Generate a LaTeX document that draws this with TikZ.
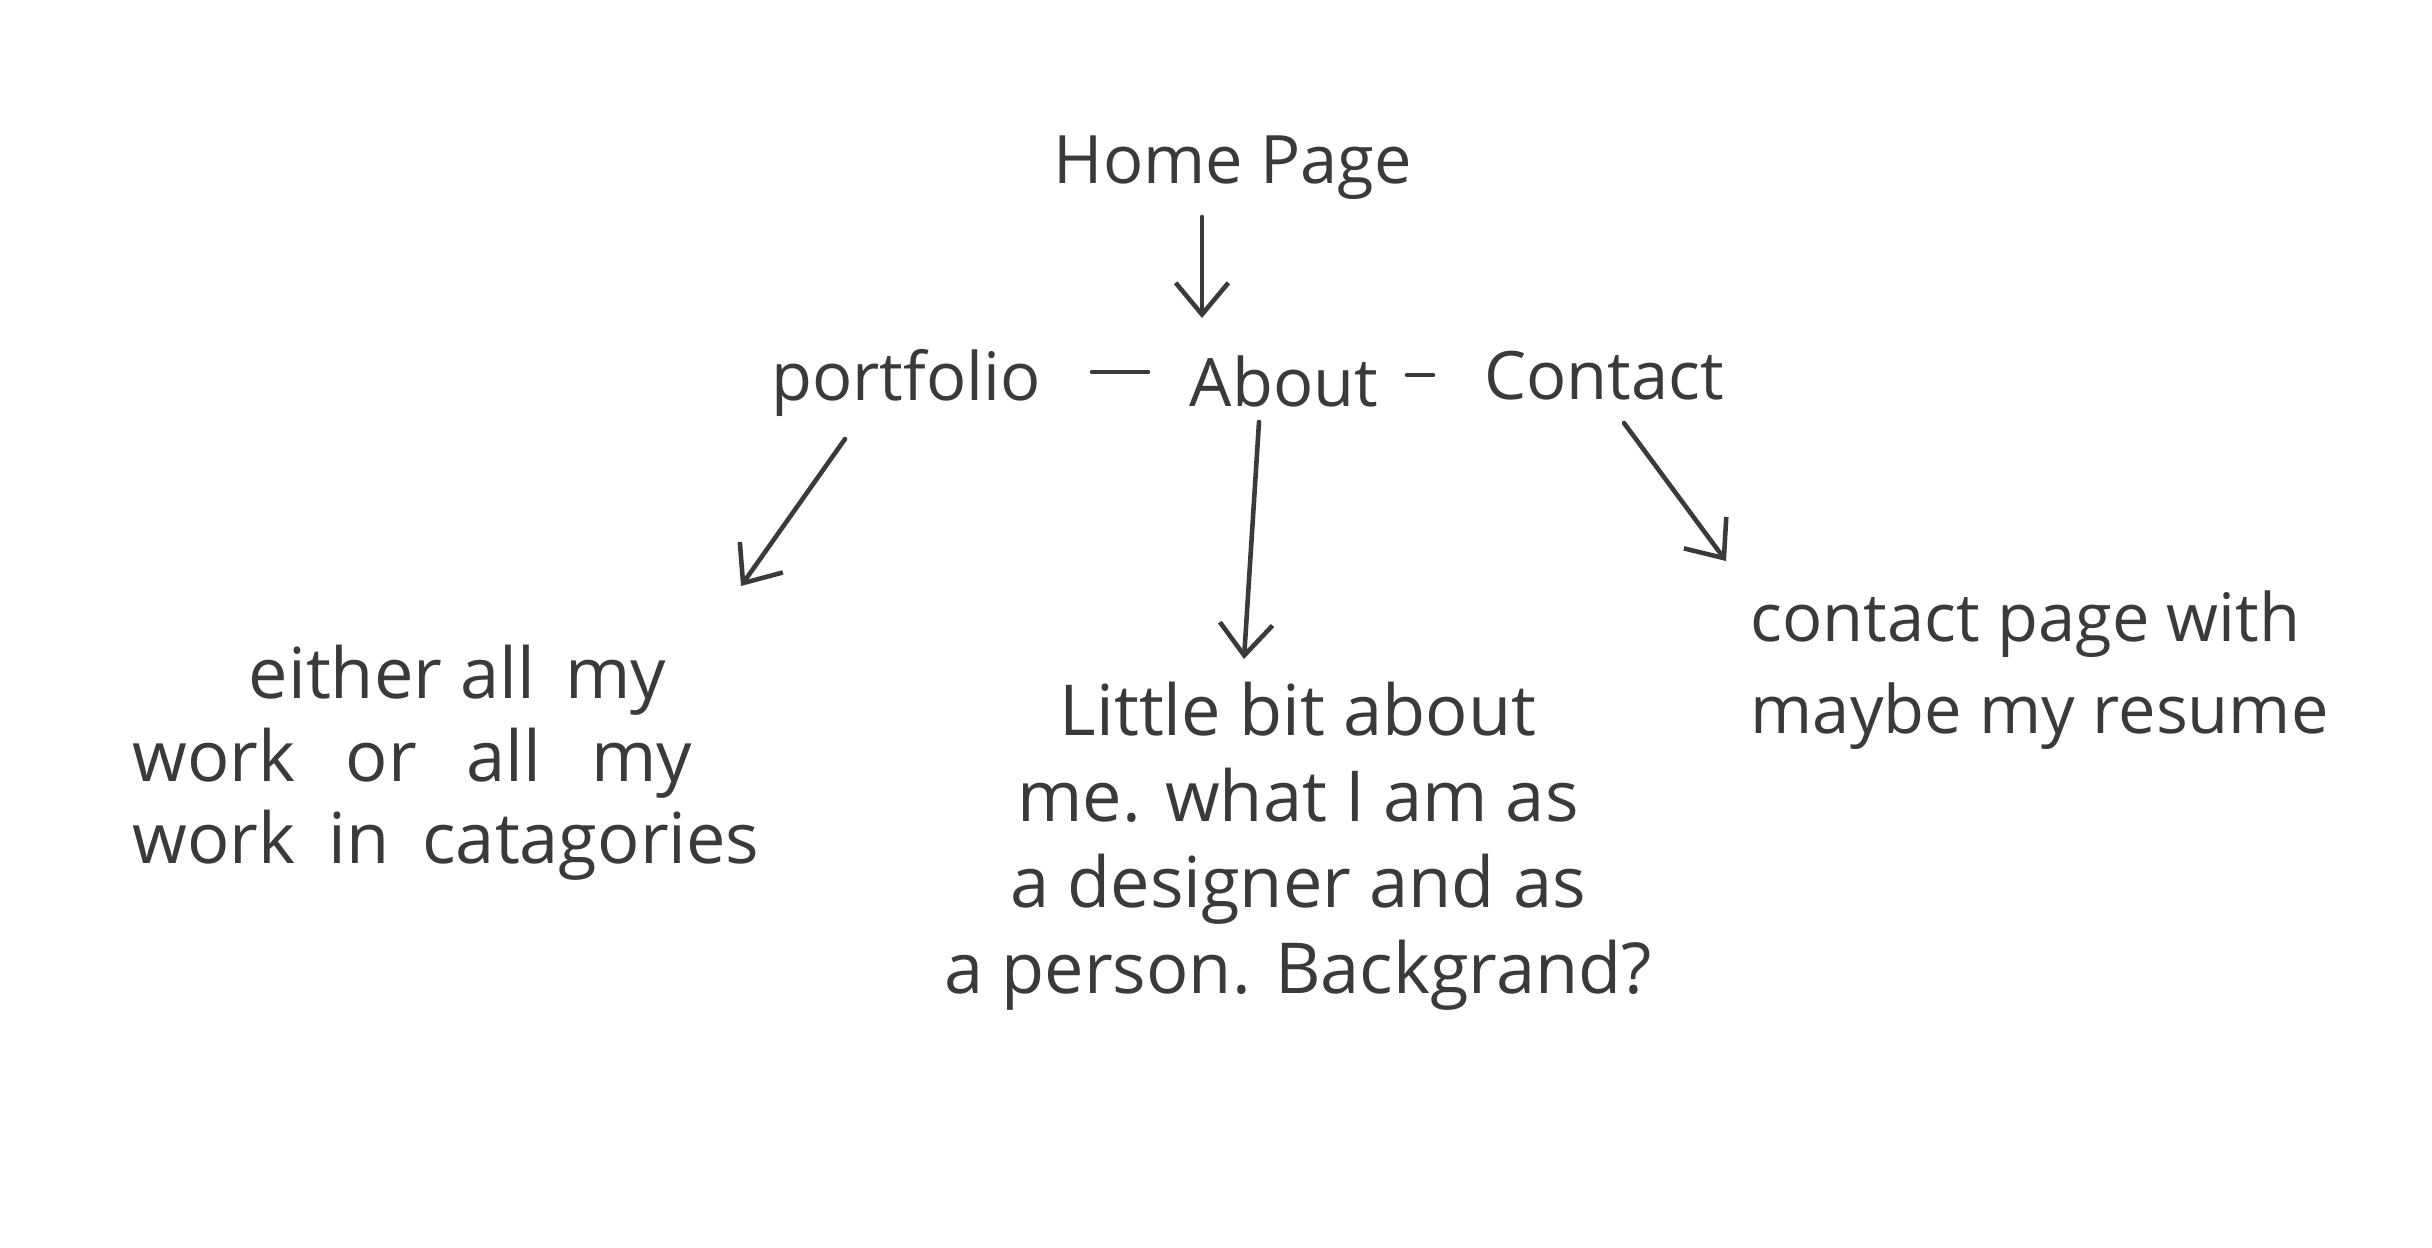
\documentclass[tikz,border=0pt]{standalone}
\usepackage{fontspec}
\setmainfont{Open Sans}
\usetikzlibrary{calc,arrows.meta}
\definecolor{pencil}{HTML}{3A3A3A}
\tikzset{
  lbl/.style={inner sep=0pt, anchor=base, text=pencil, font=\fontsize{19}{22}\selectfont},
  body/.style={inner sep=0pt, text=pencil, font=\fontsize{20}{23.5}\selectfont},
  arr/.style={draw=pencil, line width=1.3pt, line cap=round, -{Straight Barb[length=9pt,width=15pt]}},
  dashln/.style={draw=pencil, line width=1.3pt, line cap=round}
}
\begin{document}
\begin{tikzpicture}[x=0.01cm,y=-0.01cm]
\useasboundingbox[fill=white] (0,0) rectangle (2432,1248);
\node[lbl] (home) at (1233,183) {Home Page};
\node[lbl] (portfolio) at (906,400) {portfolio};
\node[lbl] (about) at (1284,406) {About};
\node[lbl] (contact) at (1604,399) {Contact};
\node[body, align=left, anchor=west] (work) at (132,763)
  {\hspace*{11.6mm}either all\hspace{3mm}my\\work\hspace{5mm}or\hspace{5mm}all\hspace{5mm}my\\work\hspace{3.3mm}in\hspace{3.3mm}catagories};
\node[body, align=center, font=\fontsize{20}{24.5}\selectfont] (me) at (1298,846)
  {Little bit about\\me. what I am as\\a designer and as\\a person. Backgrand?};
\node[body, align=left, anchor=west, font=\fontsize{19}{26}\selectfont] (cpage) at (1750,670)
  {contact page with\\maybe my resume};
\draw[arr] ($(home.base)+(-31,34)$) -- ($(about.base)+(-82,-88)$);
\draw[dashln] ($(portfolio.base)+(186,-28)$) -- ($(about.base)+(-136,-34)$);
\draw[dashln] ($(about.base)+(123,-31)$) -- ($(contact.base)+(-171,-24)$);
\draw[arr] ($(portfolio.base)+(-61,39)$) -- ($(portfolio.base)+(-165,186)$);
\draw[arr] ($(about.base)+(-25,16)$) -- ($(about.base)+(-40,253)$);
\draw[arr] ($(contact.base)+(20,24)$) -- ($(contact.base)+(122,162)$);
\end{tikzpicture}
\end{document}
